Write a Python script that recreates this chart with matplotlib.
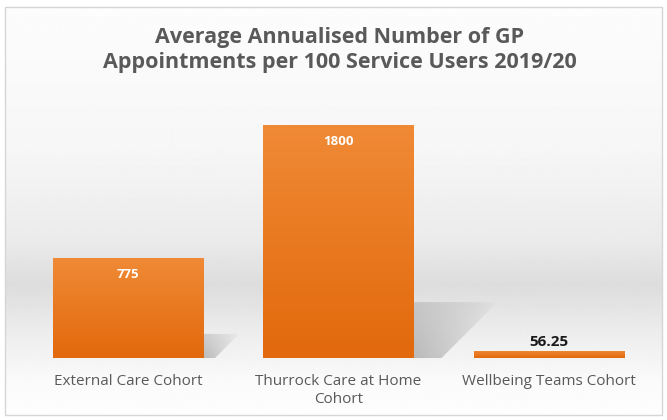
import numpy as np
import matplotlib.pyplot as plt
from matplotlib.colors import LinearSegmentedColormap
from matplotlib.patches import Rectangle, Polygon

# data
categories = ['External Care Cohort', 'Thurrock Care at Home\nCohort', 'Wellbeing Teams Cohort']
values = [775, 1800, 56.25]
value_labels = ['775', '1800', '56.25']
label_inside = [True, True, False]
title_lines = ['Average Annualised Number of GP',
               'Appointments per 100 Service Users 2019/20']

plt.rcParams['font.family'] = ['Open Sans', 'DejaVu Sans']

W, H = 667, 420
fig = plt.figure(figsize=(W / 100, H / 100), dpi=100)

# background panel: soft vertical grey gradient + thin border
bg = fig.add_axes([0, 0, 1, 1], zorder=0)
bg.axis('off')
stops_y = [7, 150, 240, 285, 330, 380, 415]
stops_v = [0.99, 0.965, 0.92, 0.865, 0.925, 0.98, 0.995]
rows = np.arange(7, 416)
shade = np.interp(rows, stops_y, stops_v)
bg.imshow(np.repeat(shade[:, None], 2, axis=1), cmap='gray', vmin=0, vmax=1,
          extent=[5, 662, 415, 7], aspect='auto', interpolation='bilinear')
bg.add_patch(Rectangle((5, 7), 657, 408, fill=False, edgecolor='#d6d6d6', lw=1))
bg.set_xlim(0, W)
bg.set_ylim(H, 0)

# main axes
ax = fig.add_axes([22.75 / W, 62 / H, 631.5 / W, 258.9 / H], zorder=1)
ax.patch.set_alpha(0)
x = np.arange(len(categories))
bars = ax.bar(x, values, width=0.713, color='#ED7D31', zorder=3)
ax.set_xlim(-0.5, 2.5)
ax.set_ylim(0, 2000)

px_x = ax.bbox.width / 3
px_y = ax.bbox.height / 2000

orange = LinearSegmentedColormap.from_list('orng', ['#E2690C', '#F08A36'])
grad = np.linspace(0, 1, 100)[:, None]

# shadow texture: darker near the bar foot, fading up and to the right
gx, gy = np.meshgrid(np.linspace(0, 1, 120), np.linspace(0, 1, 60))
shadow_rgba = np.zeros((60, 120, 4))
shadow_rgba[..., :3] = 0.25
shadow_rgba[..., 3] = 0.32 * np.clip(1 - gx, 0, 1) ** 0.7 * (1 - 0.45 * gy)

for b in bars:
    x0, w, h = b.get_x(), b.get_width(), b.get_height()
    im = ax.imshow(grad, extent=[x0, x0 + w, 0, h], cmap=orange, origin='lower',
                   aspect='auto', zorder=3.5, interpolation='bilinear')
    im.set_clip_path(b)
    hp = h * px_y
    if hp > 20:
        xr = x0 + w
        sx = hp / px_x
        sh = 0.24 * h
        poly = Polygon([(xr, 0), (xr, sh), (xr + 0.36 * sx, sh), (xr + 0.12 * sx, 0)],
                       closed=True, facecolor='none', edgecolor='none')
        ax.add_patch(poly)
        sim = ax.imshow(shadow_rgba, extent=[xr, xr + 0.36 * sx, 0, sh], origin='lower',
                        aspect='auto', zorder=2, interpolation='bilinear')
        sim.set_clip_path(poly)

ax.set_xlim(-0.5, 2.5)
ax.set_ylim(0, 2000)

# value labels
for b, lab, inside in zip(bars, value_labels, label_inside):
    cx = b.get_x() + b.get_width() / 2
    if inside:
        ax.annotate(lab, (cx, b.get_height()), xytext=(0, -12.2), textcoords='offset points',
                    ha='center', va='center', color='white', fontweight='bold',
                    fontsize=9.5, zorder=5)
    else:
        ax.annotate(lab, (cx, b.get_height()), xytext=(0, 6.5), textcoords='offset points',
                    ha='center', va='center', color='#1a1a1a', fontweight='bold',
                    fontsize=11, zorder=5)

ax.set_xticks(x, categories)
ax.tick_params(axis='x', length=0, pad=11.5, labelsize=11, labelcolor='#595959')
for t in ax.get_xticklabels():
    t.set_linespacing(1.25)
ax.set_yticks([])
for s in ax.spines.values():
    s.set_visible(False)

for line, base in zip(title_lines, [43, 68]):
    fig.text(340 / W, 1 - base / H, line, ha='center', va='baseline', fontsize=15.5,
             fontweight='bold', color='#595959')

fig.savefig('out.png', dpi=100)
